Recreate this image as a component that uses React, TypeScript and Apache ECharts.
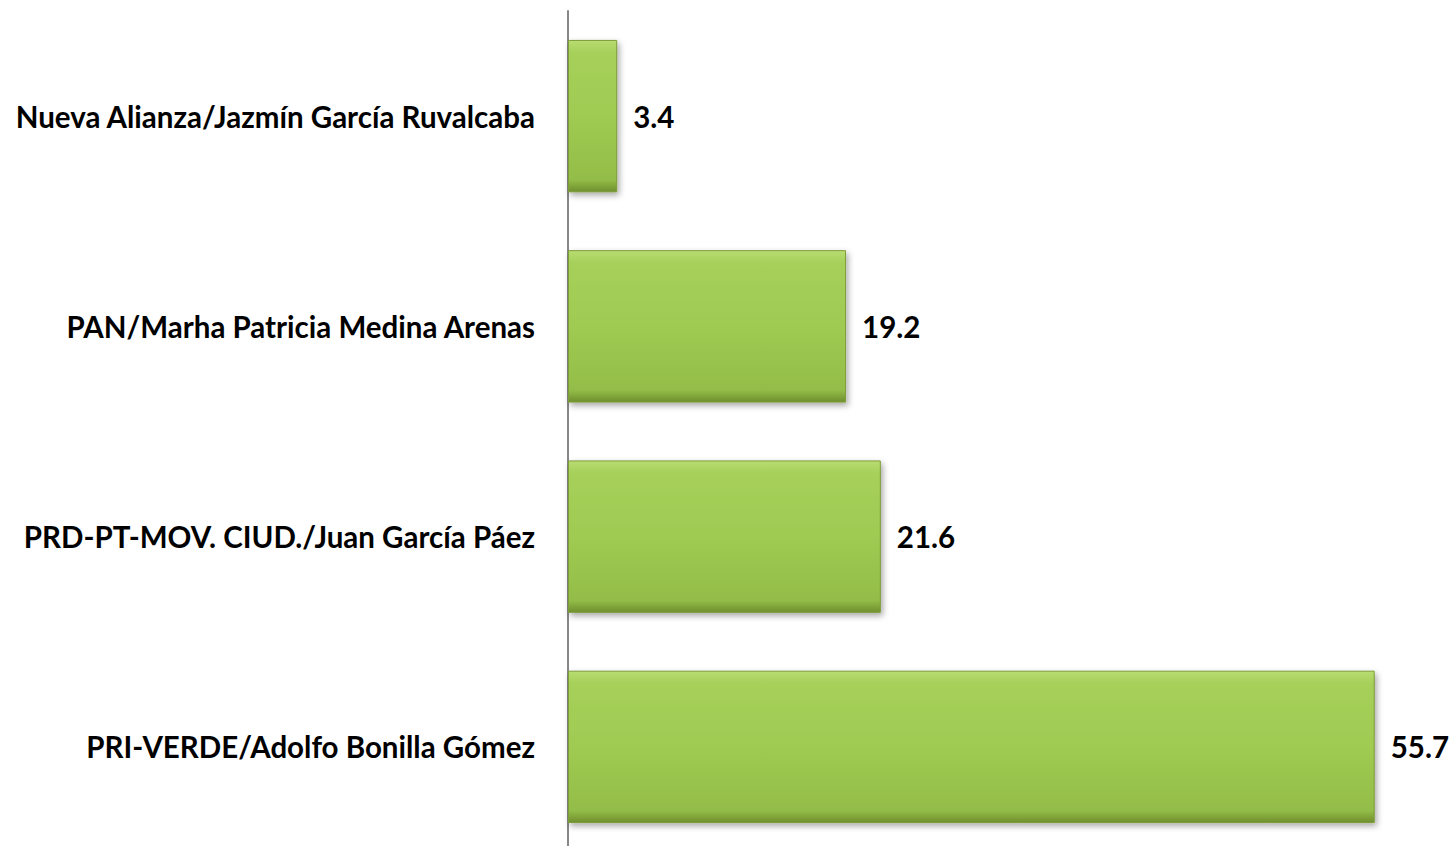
import React, { useEffect, useRef } from "react";
import * as echarts from "echarts";

const categories = [
  "PRI-VERDE/Adolfo Bonilla Gómez",
  "PRD-PT-MOV. CIUD./Juan García Páez",
  "PAN/Marha Patricia Medina Arenas",
  "Nueva Alianza/Jazmín García Ruvalcaba",
];
const values = [55.7, 21.6, 19.2, 3.4];

export default function App() {
  const ref = useRef<HTMLDivElement>(null);
  useEffect(() => {
    if (!ref.current) return;
    const chart = echarts.init(ref.current, null, { renderer: "svg" });
    chart.setOption({
      animation: false,
      backgroundColor: "#ffffff",
      grid: { left: 568, right: 18, top: 11, bottom: 8, containLabel: false },
      xAxis: {
        type: "value",
        min: 0,
        max: 60,
        show: false,
      },
      yAxis: {
        type: "category",
        data: categories,
        axisLine: { show: true, lineStyle: { color: "#878787", width: 2 } },
        axisTick: { show: false },
        splitLine: { show: false },
        axisLabel: {
          margin: 33,
          color: "#000000",
          fontFamily: "Lato",
          fontWeight: "bold",
          fontSize: 29.5,
        },
      },
      series: [
        {
          type: "bar",
          data: values,
          barCategoryGap: "27.5%",
          itemStyle: {
            color: new echarts.graphic.LinearGradient(0, 0, 0, 1, [
              { offset: 0, color: "#b8dc72" },
              { offset: 0.08, color: "#a6d05a" },
              { offset: 0.5, color: "#9fcb52" },
              { offset: 0.92, color: "#93bd48" },
              { offset: 1, color: "#6f8f2e" },
            ]),
            borderColor: "#7d9c38",
            borderWidth: 1,
            shadowBlur: 6,
            shadowOffsetX: 2,
            shadowOffsetY: 3,
            shadowColor: "rgba(0,0,0,0.35)",
          },
          label: {
            show: true,
            position: "right",
            distance: 16,
            color: "#000000",
            fontFamily: "Lato",
            fontWeight: "bold",
            fontSize: 29.5,
            formatter: (p: any) => String(p.value),
          },
        },
      ],
    });
    return () => chart.dispose();
  }, []);
  return (
    <div
      style={{
        position: "absolute",
        left: 0,
        top: 0,
        width: 1455,
        height: 846,
        overflow: "hidden",
        background: "#ffffff",
      }}
    >
      <div ref={ref} style={{ width: 1455, height: 860 }} />
    </div>
  );
}
